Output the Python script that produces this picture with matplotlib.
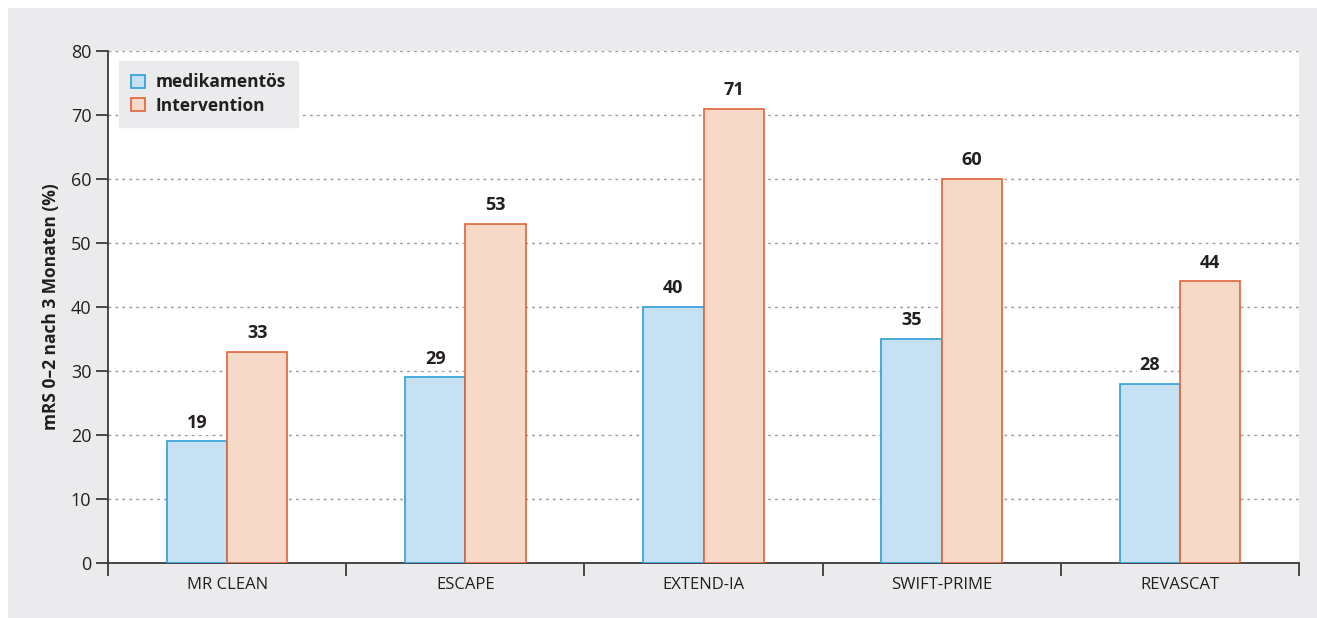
import matplotlib
matplotlib.use("Agg")
import matplotlib.pyplot as plt
from matplotlib.patches import Rectangle, Patch
import numpy as np

plt.rcParams['font.family'] = ['Open Sans', 'DejaVu Sans']

categories = ["MR CLEAN", "ESCAPE", "EXTEND-IA", "SWIFT-PRIME", "REVASCAT"]
medikamentoes = [19, 29, 40, 35, 28]
intervention = [33, 53, 71, 60, 44]
series_names = ["medikamentös", "Intervention"]
yticks = [0, 10, 20, 30, 40, 50, 60, 70, 80]
ylabel = "mRS 0–2 nach 3 Monaten (%)"

BG = "#ebebed"
BLUE_F, BLUE_E = "#c6e1f4", "#2b9ed8"
OR_F, OR_E = "#f7d9c8", "#e0643a"
TXT = "#231f20"

W, H = 1317, 618
fig = plt.figure(figsize=(W / 100, H / 100), dpi=100)
fig.patch.set_facecolor("white")
fig.add_artist(Rectangle((8 / W, 0), 1 - 8 / W, (H - 8) / H, transform=fig.transFigure,
                         facecolor=BG, edgecolor="none", zorder=-10))

ax = fig.add_axes([108 / W, (H - 563) / H, (1299 - 108) / W, (563 - 51) / H])
ax.set_facecolor("white")

x = np.arange(len(categories))
bw = 0.253
ax.bar(x - bw / 2, medikamentoes, bw, facecolor=BLUE_F, edgecolor=BLUE_E, linewidth=1.2, zorder=3)
ax.bar(x + bw / 2, intervention, bw, facecolor=OR_F, edgecolor=OR_E, linewidth=1.2, zorder=3)

for xi, v in zip(x - bw / 2, medikamentoes):
    ax.text(xi, v + 2.9, str(v), ha="center", va="center", fontsize=13, fontweight="bold",
            color=TXT, zorder=4, bbox=dict(facecolor="white", edgecolor="none", pad=2))
for xi, v in zip(x + bw / 2, intervention):
    ax.text(xi, v + 2.9, str(v), ha="center", va="center", fontsize=13, fontweight="bold",
            color=TXT, zorder=4, bbox=dict(facecolor="white", edgecolor="none", pad=2))

ax.set_xlim(-0.5, len(categories) - 0.5)
ax.set_ylim(0, 80)
ax.set_yticks(yticks)
ax.set_yticklabels([str(t) for t in yticks], fontsize=13, color=TXT)
ax.yaxis.grid(True, linestyle=(0, (2, 3)), color="#9a9a9a", linewidth=1.0, zorder=0)
ax.set_axisbelow(True)

ax.set_xticks(np.arange(len(categories) + 1) - 0.5)
ax.set_xticklabels([])
ax.set_xticks(x, minor=True)
ax.set_xticklabels(categories, minor=True, fontsize=12, color=TXT)
ax.tick_params(axis="x", which="minor", length=0, pad=10)
ax.tick_params(axis="x", which="major", length=9, width=1.3, color="#3a3a3a", direction="out")
ax.tick_params(axis="y", length=9, width=1.3, color="#3a3a3a", direction="out", pad=3)

for s in ["top", "right"]:
    ax.spines[s].set_visible(False)
for s in ["left", "bottom"]:
    ax.spines[s].set_color("#3a3a3a")
    ax.spines[s].set_linewidth(1.3)

ax.set_ylabel(ylabel, fontsize=12.5, fontweight="bold", color=TXT, labelpad=8)

handles = [Patch(facecolor=BLUE_F, edgecolor=BLUE_E, linewidth=1.2),
           Patch(facecolor=OR_F, edgecolor=OR_E, linewidth=1.2)]
leg = ax.legend(handles, series_names, loc="upper left", bbox_to_anchor=(0.009, 0.98),
                frameon=True, fancybox=False, facecolor=BG, edgecolor=BG, framealpha=1,
                prop=dict(size=12.5, weight="bold"), handlelength=0.8, handleheight=0.8,
                handletextpad=0.6, labelspacing=0.3, borderpad=0.7, borderaxespad=0)
for t in leg.get_texts():
    t.set_color(TXT)
leg.set_zorder(5)

fig.savefig("out.png", dpi=100, facecolor=fig.get_facecolor())
